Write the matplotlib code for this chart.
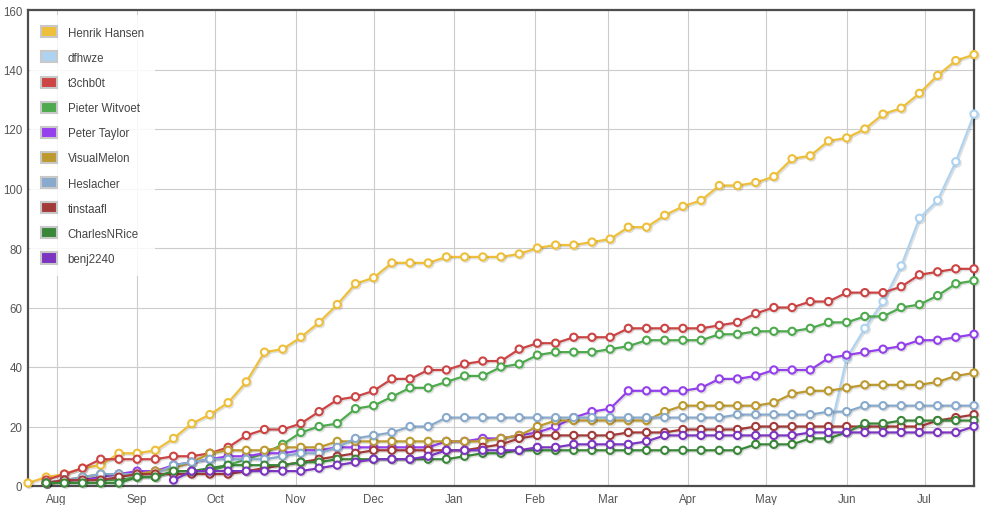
import numpy as np
import matplotlib
matplotlib.use('Agg')
import matplotlib.pyplot as plt
import matplotlib.dates as mdates
import matplotlib.patheffects as pe
from matplotlib.patches import Patch

plt.rcParams['font.family'] = ['Liberation Sans', 'DejaVu Sans']

# weekly samples
weeks = np.arange('2018-07-21', '2019-07-21', 7, dtype='datetime64[D]')
nan = np.nan

names = ['Henrik Hansen', 'dfhwze', 't3chb0t', 'Pieter Witvoet', 'Peter Taylor',
         'VisualMelon', 'Heslacher', 'tinstaafl', 'CharlesNRice', 'benj2240']
colors = ['#eebf3a', '#aed3f0', '#cc4444', '#4daa4d', '#9440ed',
          '#bd9a2f', '#88aacc', '#a33a3a', '#3a873a', '#7b35c0']

henrik = [1, 3, 4, 6, 7, 11, 11, 12, 16, 21, 24, 28, 35, 45, 46, 50, 55, 61, 68, 70,
          75, 75, 75, 77, 77, 77, 77, 78, 80, 81, 81, 82, 83, 87, 87, 91, 94, 96, 101, 101,
          102, 104, 110, 111, 116, 117, 120, 125, 127, 132, 138, 143, 145]
dfhwze = [nan] * 44 + [16, 43, 53, 62, 74, 90, 96, 109, 125]
t3chb0t = [nan, 2, 4, 6, 9, 9, 9, 9, 10, 10, 11, 13, 17, 19, 19, 21, 25, 29, 30, 32,
           36, 36, 39, 39, 41, 42, 42, 46, 48, 48, 50, 50, 50, 53, 53, 53, 53, 53, 54, 55,
           58, 60, 60, 62, 62, 65, 65, 65, 67, 71, 72, 73, 73]
pieter = [nan, 1, 2, 2, 2, 2, 3, 3, 5, 5, 5, 7, 9, 11, 14, 18, 20, 21, 26, 27,
          30, 33, 33, 35, 37, 37, 40, 41, 44, 45, 45, 45, 46, 47, 49, 49, 49, 49, 51, 51,
          52, 52, 52, 53, 55, 55, 57, 57, 60, 61, 64, 68, 69]
peter = [nan, 1, 2, 2, 3, 4, 5, 5, 7, 8, 9, 10, 10, 11, 11, 12, 12, 13, 13, 13,
         13, 13, 13, 15, 15, 16, 16, 17, 18, 20, 23, 25, 26, 32, 32, 32, 32, 33, 36, 36,
         37, 39, 39, 39, 43, 44, 45, 46, 47, 49, 49, 50, 51]
visualmelon = [nan, 1, 2, 3, 4, 4, 4, 5, 6, 8, 11, 12, 12, 12, 13, 13, 13, 15, 15, 15,
               15, 15, 15, 15, 15, 15, 16, 17, 20, 22, 22, 22, 22, 22, 22, 25, 27, 27, 27, 27,
               27, 28, 31, 32, 32, 33, 34, 34, 34, 34, 35, 37, 38]
heslacher = [nan, 1, 2, 3, 4, 4, 4, 4, 7, 8, 9, 9, 9, 9, 10, 11, 11, 13, 16, 17,
             18, 20, 20, 23, 23, 23, 23, 23, 23, 23, 23, 23, 23, 23, 23, 23, 23, 23, 23, 24,
             24, 24, 24, 24, 25, 25, 27, 27, 27, 27, 27, 27, 27]
tinstaafl = [nan, 1, 2, 2, 2, 3, 4, 4, 4, 4, 4, 4, 5, 6, 7, 8, 9, 10, 11, 12,
             12, 12, 12, 12, 12, 13, 14, 16, 17, 17, 17, 17, 17, 18, 18, 18, 19, 19, 19, 19,
             20, 20, 20, 20, 20, 20, 20, 20, 20, 20, 22, 23, 24]
charles = [nan, 1, 1, 1, 1, 1, 3, 3, 5, 5, 6, 7, 7, 7, 7, 8, 8, 9, 9, 9,
           9, 9, 9, 9, 10, 11, 11, 12, 12, 12, 12, 12, 12, 12, 12, 12, 12, 12, 12, 12,
           14, 14, 14, 16, 16, 18, 21, 21, 22, 22, 22, 22, 22]
benj = [nan] * 8 + [2, 5, 5, 5, 5, 5, 5, 5, 6, 7, 8, 9,
                    9, 9, 10, 12, 12, 12, 12, 12, 13, 13, 14, 14, 14, 14, 15, 17, 17, 17, 17, 17,
                    17, 17, 17, 18, 18, 18, 18, 18, 18, 18, 18, 18, 20]

series = [henrik, dfhwze, t3chb0t, pieter, peter, visualmelon, heslacher,
          tinstaafl, charles, benj]

fig = plt.figure(figsize=(9.82, 5.06), dpi=100)
ax = fig.add_axes([28 / 982, 19 / 506, 946 / 982, 476 / 506])

shadow = [pe.SimpleLineShadow(offset=(1, -1), alpha=0.12, shadow_color='black'), pe.Normal()]
for vals, c in zip(series, colors):
    ax.plot(weeks, np.array(vals, dtype=float), color=c, lw=1.6,
            marker='o', markersize=5.2, markerfacecolor='white',
            markeredgecolor=c, markeredgewidth=1.5, clip_on=False,
            path_effects=shadow, zorder=3)

ax.set_xlim(weeks[0], weeks[-1])
ax.set_ylim(0, 160)
ax.set_yticks(range(0, 161, 20))
ax.xaxis.set_major_locator(mdates.MonthLocator())
ax.xaxis.set_major_formatter(mdates.DateFormatter('%b'))

ax.grid(True, color='#cccccc', lw=0.8)
ax.set_axisbelow(True)
for s in ax.spines.values():
    s.set_color('#4d4d4d')
    s.set_linewidth(1.6)
ax.tick_params(length=0, labelsize=8.3, colors='#555555')
ax.tick_params(axis='x', pad=5)
ax.tick_params(axis='y', pad=4)

handles = [Patch(facecolor=c, edgecolor='#c8c8c8', linewidth=1.5) for c in colors]
leg = ax.legend(handles, names, loc='upper left', bbox_to_anchor=(0, 1 - 3 / 476),
                fontsize=8.3, frameon=True, fancybox=False, framealpha=0.85,
                edgecolor='none', facecolor='white',
                handlelength=1.4, handleheight=1.1, handletextpad=0.9,
                labelspacing=1.1, borderpad=1.0, borderaxespad=0.15)
for t in leg.get_texts():
    t.set_color('#444444')
leg.set_zorder(5)

fig.savefig('out.png', dpi=100)
